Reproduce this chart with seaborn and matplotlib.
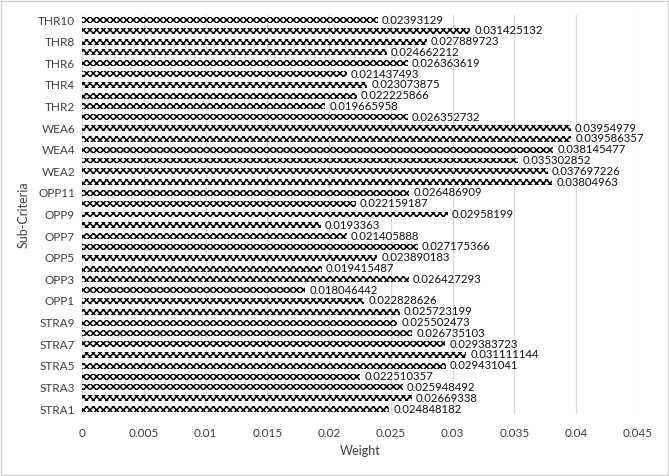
import matplotlib
matplotlib.use("Agg")
import matplotlib.pyplot as plt
import seaborn as sns
import pandas as pd

stra = [0.024848182, 0.02669338, 0.025948492, 0.022510357, 0.029431041,
        0.031111144, 0.029383723, 0.026735103, 0.025502473, 0.025723199]
opp = [0.022828626, 0.018046442, 0.026427293, 0.019415487, 0.023890183,
       0.027175366, 0.021405888, 0.0193363, 0.02958199, 0.022159187, 0.026486909]
wea = [0.03804963, 0.037697226, 0.035302852, 0.038145477, 0.039586357, 0.03954979]
thr = [0.026352732, 0.019665958, 0.022225866, 0.023073875, 0.021437493,
       0.026363619, 0.024662212, 0.027889723, 0.031425132, 0.02393129]

names, vals = [], []
for prefix, arr in [("STRA", stra), ("OPP", opp), ("WEA", wea), ("THR", thr)]:
    for i, v in enumerate(arr):
        names.append(f"{prefix}{i+1}")
        vals.append(v)
# top to bottom order
names = names[::-1]
vals = vals[::-1]
df = pd.DataFrame({"Sub-Criteria": names, "Weight": vals})

sns.set_theme(style="white")
plt.rcParams['font.family'] = ['Lato', 'DejaVu Sans']
plt.rcParams['hatch.color'] = 'black'
plt.rcParams['hatch.linewidth'] = 1.1

fig = plt.figure(figsize=(6.69, 4.76), dpi=100)
ax = fig.add_axes([0.1226, 0.1294, 0.8311, 0.8399])
sns.barplot(data=df, y="Sub-Criteria", x="Weight", order=names, orient="h",
            color="white", width=0.55, ax=ax, zorder=3)
for p in ax.patches:
    p.set_hatch("xxxxx")
    p.set_edgecolor("black")
    p.set_linewidth(0)

ax.bar_label(ax.containers[0], labels=[str(v) for v in vals], padding=3,
             fontsize=8.2, color="#111111")

ax.set_xlim(0, 0.045)
ax.set_xticks([i * 0.005 for i in range(10)])
ax.set_xticklabels(["0", "0.005", "0.01", "0.015", "0.02", "0.025", "0.03",
                    "0.035", "0.04", "0.045"], fontsize=8.5, color="#404040")
ax.set_ylim(len(names) - 0.5, -0.5)
ax.set_yticks(range(len(names)))
ax.set_yticklabels([n if (len(names) - 1 - i) % 2 == 0 else "" for i, n in enumerate(names)],
                   fontsize=8.5, color="#404040")
ax.tick_params(axis="both", length=0, pad=5)
ax.tick_params(axis="x", pad=10)
ax.grid(axis="x", color="#d9d9d9", linewidth=0.9, zorder=0)
ax.set_axisbelow(True)
for s in ax.spines.values():
    s.set_visible(False)
ax.set_xlabel("Weight", fontsize=9, color="#404040", labelpad=4)
ax.set_ylabel("Sub-Criteria", fontsize=9, color="#404040", labelpad=6)

fig.patches.append(plt.Rectangle((0.002, 0.003), 0.996, 0.994, transform=fig.transFigure,
                                 fill=False, edgecolor="#d0d0d0", linewidth=1))
fig.savefig("out.png", dpi=100)
